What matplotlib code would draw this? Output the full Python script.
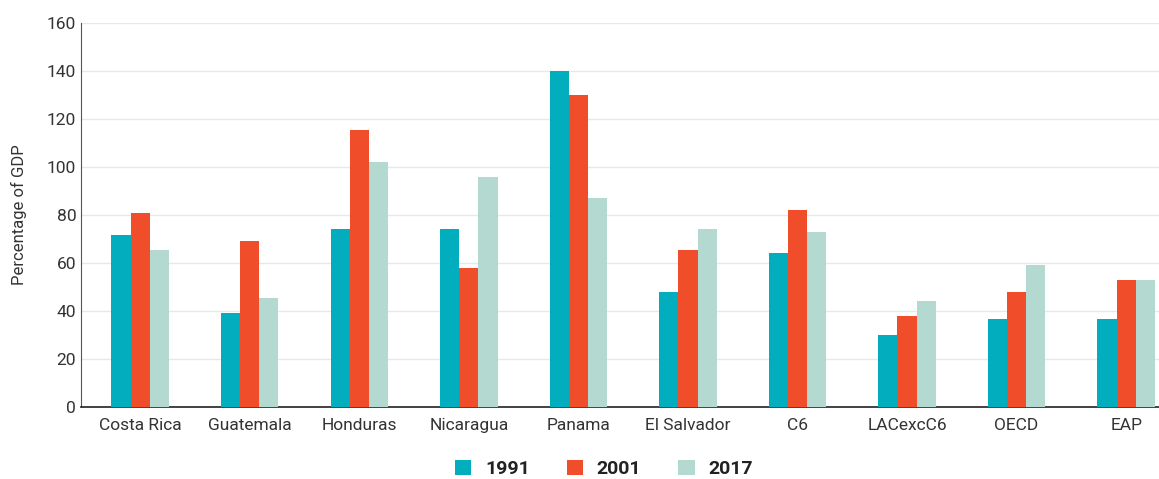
import numpy as np
import matplotlib
matplotlib.use("Agg")
import matplotlib.pyplot as plt

categories = ["Costa Rica", "Guatemala", "Honduras", "Nicaragua", "Panama",
              "El Salvador", "C6", "LACexcC6", "OECD", "EAP"]
years = ["1991", "2001", "2017"]
v1991 = [71.5, 39.1, 74.0, 74.0, 139.8, 47.8, 64.1, 29.9, 36.6, 36.6]
v2001 = [80.7, 69.0, 115.6, 57.8, 129.8, 65.3, 81.9, 37.9, 47.8, 52.8]
v2017 = [65.3, 45.3, 101.9, 95.7, 86.9, 74.0, 72.8, 44.1, 59.1, 52.8]
colors = ["#02ADBD", "#F04E2B", "#B3D9D1"]

plt.rcParams["font.family"] = ["Roboto", "DejaVu Sans"]

fig = plt.figure(figsize=(11.59, 4.79), dpi=100)
ax = fig.add_axes([0.0699, 0.1503, 0.9301, 0.8017])

x = np.arange(len(categories))
w = 0.175
for i, (vals, yr) in enumerate(zip([v1991, v2001, v2017], years)):
    ax.bar(x + (i - 1) * w, vals, w, color=colors[i], label=yr, zorder=3)

ax.set_xlim(-0.54, 9.3)
ax.set_ylim(0, 160)
ax.set_yticks(range(0, 161, 20))
ax.set_xticks(x)
ax.set_xticklabels(categories)
ax.tick_params(axis="both", length=0, labelsize=12.5, colors="#333333")
ax.tick_params(axis="x", pad=8)
ax.grid(axis="y", color="#E8E8E8", linewidth=1, zorder=0)
for s in ["top", "right"]:
    ax.spines[s].set_visible(False)
ax.spines["left"].set_color("#555555")
ax.spines["bottom"].set_color("#222222")
ax.spines["bottom"].set_linewidth(1.2)
ax.set_ylabel("Percentage of GDP", fontsize=12, color="#333333", labelpad=14)

leg = fig.legend(loc="lower center", bbox_to_anchor=(0.521, -0.035), ncol=3,
                 frameon=False, handlelength=0.85, handleheight=0.85,
                 columnspacing=1.9, handletextpad=0.7,
                 prop={"weight": "bold", "size": 14})
for t in leg.get_texts():
    t.set_color("#222222")

fig.savefig("out.png", dpi=100)
